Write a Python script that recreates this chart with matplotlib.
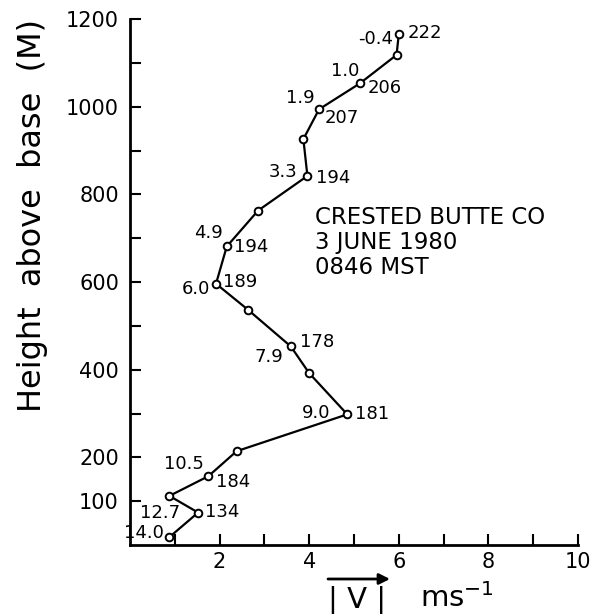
#!/usr/bin/env python
# Wind speed profile, Crested Butte CO, 3 June 1980

import numpy as np
from matplotlib import pyplot as plt

# Data (top of profile first)
speed = [6.00, 5.95, 5.13, 4.22, 3.87, 3.96, 2.86, 2.16, 1.92, 2.63,
         3.59, 4.00, 4.85, 2.38, 1.75, 0.88, 1.52, 0.88]          # |V| (m/s)
height = [1166, 1118, 1053, 994, 926, 842, 763, 681, 596, 537,
          453, 392, 298, 214, 157, 112, 74, 18]                   # m above base
left_text = ['-0.4', '', '1.0', '1.9', '', '3.3', '', '4.9', '6.0', '',
             '7.9', '', '9.0', '', '10.5', '', '12.7', '14.0']
right_text = ['222', '', '206', '207', '', '194', '', '194', '189', '',
              '178', '', '181', '', '184', '', '134', '']

yticks = np.arange(100, 1201, 100)
ytick_labels = ['100', '200', '', '400', '', '600', '', '800', '',
                '1000', '', '1200']
xticks = np.arange(1, 11)
xtick_labels = ['', '2', '', '4', '', '6', '', '8', '', '10']

# label offsets in pixels (dx, dy)
left_off = [(-6, -5), None, (0, 12), (-4, 11), None, (-10, 4), None,
            (-4, 13), (-6, -5), None, (-8, -11), None, (-17, 1), None,
            (-5, 12), None, (-18, 0), (-6, 4)]
right_off = [(9, 1), None, (8, -5), (6, -9), None, (9, -2), None,
             (7, -1), (7, 2), None, (9, 4), None, (8, 0), None,
             (8, -6), None, (7, 1), None]

plt.rcParams['font.family'] = 'DejaVu Sans'

fig = plt.figure(figsize=(5.91, 6.14), dpi=100)
ax = fig.add_axes([130/591, 69/614, 448/591, 526/614])

ax.plot(speed, height, '-o', color='black', lw=1.6, ms=5.5,
        mfc='white', mec='black', mew=1.4, zorder=3)

for j in range(len(speed)):
    if left_text[j]:
        ax.annotate(left_text[j], (speed[j], height[j]), xytext=left_off[j],
                    textcoords='offset pixels', ha='right', va='center',
                    fontsize=13)
    if right_text[j]:
        ax.annotate(right_text[j], (speed[j], height[j]), xytext=right_off[j],
                    textcoords='offset pixels', ha='left', va='center',
                    fontsize=13)

ax.text(4.13, 690, 'CRESTED BUTTE CO\n3 JUNE 1980\n0846 MST',
        fontsize=16.5, ha='left', va='center', linespacing=1.12)

ax.set_xlim(0, 10)
ax.set_ylim(0, 1200)
ax.set_xticks(xticks)
ax.set_xticklabels(xtick_labels)
ax.set_yticks(yticks)
ax.set_yticklabels(ytick_labels)
ax.tick_params(axis='both', direction='in', labelsize=15, width=1.5)
ax.tick_params(axis='y', length=8, pad=8)
ax.tick_params(axis='x', length=8, pad=5)

for side in ['top', 'right']:
    ax.spines[side].set_visible(False)
for side in ['left', 'bottom']:
    ax.spines[side].set_linewidth(2)

fig.text(33/591, 1 - 216/614, 'Height  above  base  (M)', rotation=90,
         ha='center', va='center', fontsize=23)

# x label with arrow over |V|
fig.text(328/591, 7/614, '| V |', ha='left', va='baseline', fontsize=21)
fig.text(420/591, 7/614, 'ms$^{-1}$', ha='left', va='baseline', fontsize=21)
ax.annotate('', xy=(390/591, 1 - 579/614), xytext=(328/591, 1 - 579/614),
            xycoords='figure fraction', textcoords='figure fraction',
            arrowprops=dict(arrowstyle='-|>', lw=2, color='black',
                            mutation_scale=16, shrinkA=0, shrinkB=0))

fig.savefig('out.png', dpi=100)
